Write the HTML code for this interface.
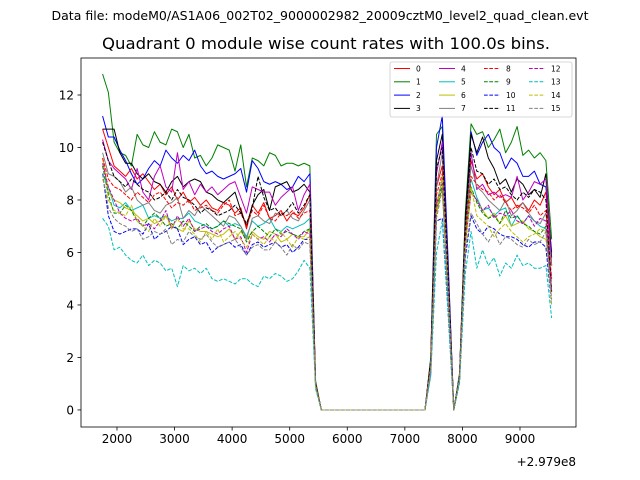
<!DOCTYPE html>
<html><head><meta charset="utf-8"><style>
body{margin:0;background:#fff}
svg{display:block;font-family:"DejaVu Sans","Liberation Sans",sans-serif}
</style></head><body>
<svg id="chart" width="640" height="480" xmlns="http://www.w3.org/2000/svg">
<rect width="640" height="480" fill="#fff"/>
<text x="320" y="20" font-size="12.4" text-anchor="middle" textLength="537" lengthAdjust="spacingAndGlyphs">Data file: modeM0/AS1A06_002T02_9000002982_20009cztM0_level2_quad_clean.evt</text>
<text x="326" y="49" font-size="16.3" text-anchor="middle" textLength="448" lengthAdjust="spacingAndGlyphs">Quadrant 0 module wise count rates with 100.0s bins.</text>
<g id="plot"></g>
</svg>
<script>
const colors=["#ff0000","#008000","#0000ff","#000000","#bf00bf","#00bfbf","#bfbf00","#808080"];
const labels=["0","1","2","3","4","5","6","7","8","9","10","11","12","13","14","15"];
const xTicks=[2000,3000,4000,5000,6000,7000,8000,9000];
const yTicks=[0,2,4,6,8,10,12];
const gapZeros=[0,0,0,0,0,0,0,0,0,0,0,0,0,0,0,0,0,0,0];
// block A: 1750..5350 step 100
const blockA=[
[10.7,10.0,9.3,9.1,8.9,9.2,8.8,9.0,8.7,8.4,8.6,8.2,8.5,8.0,8.3,7.9,8.1,7.8,8.0,7.7,7.6,7.9,7.8,7.5,7.7,6.9,7.8,7.5,7.9,7.3,7.4,7.6,7.2,7.5,7.4,7.7,8.2],
[12.8,12.1,10.2,9.8,9.7,9.3,10.5,10.1,10.0,10.6,10.2,10.1,10.7,10.6,10.0,10.5,9.6,9.7,9.3,9.6,10.1,10.0,9.9,9.1,10.1,8.5,9.6,9.5,9.3,9.8,9.7,9.3,9.4,9.4,9.3,9.4,9.3],
[11.2,10.4,10.4,9.9,9.5,9.0,8.6,8.8,9.2,9.5,9.3,9.9,9.6,9.4,9.7,9.5,9.9,9.3,9.0,9.1,8.9,8.8,8.9,9.0,9.2,8.3,9.5,9.2,8.7,8.6,8.7,8.6,8.4,8.5,8.9,8.7,9.0],
[10.7,10.7,10.7,9.8,9.4,9.4,9.0,8.8,9.0,8.7,8.6,8.3,8.7,8.9,8.5,8.7,8.8,8.7,8.3,8.2,8.0,7.9,8.1,8.3,7.6,7.0,7.8,8.2,8.4,7.6,8.5,8.6,8.7,8.3,8.4,8.6,8.3],
[10.3,9.5,9.2,9.0,8.8,8.4,9.2,8.3,8.0,8.9,9.3,8.5,8.3,9.8,8.4,8.7,8.2,8.6,8.3,8.5,8.2,8.4,8.6,8.7,8.1,7.5,8.5,8.4,8.3,8.3,7.8,8.1,8.3,8.5,7.6,8.2,8.6],
[9.0,8.5,7.8,7.7,7.9,7.6,7.7,7.8,7.3,7.4,7.3,7.4,7.2,7.3,7.3,7.5,7.2,7.1,7.0,6.9,7.0,7.2,7.0,7.1,7.0,6.6,7.2,7.0,7.1,7.3,6.9,6.8,7.0,6.9,7.0,7.1,7.3],
[9.6,8.3,8.0,7.9,7.7,7.6,7.4,7.2,7.3,7.1,7.2,7.4,7.0,6.9,6.8,7.2,6.9,6.8,6.8,6.7,6.6,6.7,6.9,6.5,6.8,6.5,6.8,6.6,6.5,6.8,6.7,6.4,6.5,6.7,6.6,6.6,6.9],
[9.8,9.0,8.9,8.7,8.3,8.5,8.0,7.8,7.9,7.6,7.5,7.8,7.9,8.1,7.3,7.6,7.4,7.8,7.6,7.4,7.2,7.0,7.4,7.3,7.0,6.5,7.3,7.4,7.2,7.1,7.5,7.4,7.6,7.3,7.2,7.6,8.0],
[9.6,8.8,8.5,8.4,8.2,8.0,8.3,8.1,7.9,8.2,8.3,8.0,7.7,7.9,7.8,8.0,7.6,7.7,7.8,7.6,7.5,7.8,8.0,7.4,7.5,7.0,7.6,7.4,7.8,7.3,7.2,7.5,7.4,7.6,7.3,7.5,7.6],
[9.3,8.2,7.5,7.5,7.8,7.6,7.2,7.0,7.3,7.5,7.3,7.0,7.1,6.9,7.2,7.0,6.8,7.0,7.1,6.9,7.0,7.2,7.1,7.0,6.9,6.4,6.8,7.0,6.8,6.6,6.9,6.7,6.8,6.7,6.6,6.8,6.9],
[9.0,7.4,6.8,6.7,6.8,6.9,6.9,6.7,7.1,6.5,6.7,6.8,7.0,6.9,6.3,6.5,6.6,6.3,6.4,6.0,6.2,6.3,6.4,6.2,6.3,5.9,6.3,6.4,6.2,6.3,6.4,6.2,6.3,6.0,6.2,6.5,6.5],
[10.2,9.5,8.9,8.7,8.5,8.8,8.6,8.4,8.3,8.0,8.1,8.3,8.0,8.4,8.1,8.0,7.8,7.5,7.7,7.6,7.4,7.5,7.6,7.8,7.5,7.1,7.7,8.9,8.1,7.6,7.7,7.4,7.6,7.9,7.5,7.8,8.2],
[9.4,8.5,8.0,7.5,7.3,7.2,7.3,7.0,7.1,6.9,7.2,7.6,6.9,7.4,7.0,7.3,6.8,6.9,7.0,6.8,6.7,6.9,7.0,6.5,6.6,6.0,6.7,6.5,6.6,6.4,6.7,6.6,6.9,6.7,6.5,6.8,6.7],
[7.3,7.0,6.1,6.2,5.9,5.7,5.6,5.9,5.5,5.7,5.6,5.3,5.4,4.7,5.5,5.3,5.4,5.2,5.4,5.0,4.9,5.0,4.9,4.8,5.0,5.0,4.8,4.7,5.1,5.0,5.2,5.1,4.9,5.0,5.3,5.7,5.4],
[8.8,8.0,7.6,7.5,7.4,7.8,7.2,7.0,6.8,7.3,7.0,7.4,6.9,7.3,6.9,6.9,6.7,6.4,6.8,6.5,6.9,6.4,6.6,6.8,6.5,6.2,6.7,6.5,6.3,6.6,6.4,6.8,6.5,6.2,6.6,6.5,6.6],
[9.0,7.7,7.3,7.1,7.0,6.8,6.9,6.5,6.6,6.8,6.7,6.9,6.3,6.5,6.4,6.8,6.6,6.5,6.7,6.4,6.2,6.3,6.4,6.5,6.2,5.9,6.2,6.3,6.1,6.1,6.4,6.2,5.9,6.3,6.1,6.4,6.3]];
// spike: 5450, 7450, 7550, 7650, 7750, 7950, 8050
const spike=[
[1.0,1.8,8.5,9.3,4.8,1.3,6.8],[1.1,2.0,10.5,10.8,5.5,1.4,7.5],[1.0,1.9,10.0,11.2,5.8,1.3,7.0],[1.0,1.9,9.5,10.5,5.4,1.3,7.3],
[1.0,1.8,9.0,10.2,5.2,1.3,6.9],[0.9,1.6,7.8,8.8,4.5,1.2,6.5],[0.9,1.6,7.5,8.5,4.4,1.2,6.3],[1.0,1.7,8.5,9.8,5.0,1.3,6.8],
[1.0,1.7,8.2,9.0,4.6,1.2,6.6],[0.9,1.6,7.6,8.6,4.4,1.2,6.3],[0.9,1.4,7.2,7.3,3.8,1.1,5.8],[1.0,1.8,9.2,10.0,5.1,1.3,7.0],
[0.9,1.6,7.8,8.8,4.5,1.2,6.3],[0.8,1.3,6.0,7.2,3.7,1.0,5.2],[0.9,1.6,7.6,8.9,4.5,1.2,6.2],[0.9,1.5,7.3,8.4,4.3,1.2,6.0]];
// block B: 8150..9550
const blockB=[
[9.5,8.8,9.0,8.5,8.2,8.4,7.9,8.1,7.7,7.9,7.6,8.0,7.8,8.3,5.5],
[10.9,10.5,10.6,10.0,10.3,10.7,9.8,10.2,10.8,9.7,9.9,9.6,9.8,9.5,6.5],
[10.6,9.7,10.2,10.5,10.0,9.8,9.2,9.6,9.4,8.9,8.9,9.1,8.6,8.5,6.0],
[10.5,9.8,10.4,9.6,9.2,8.6,8.8,8.3,8.8,8.6,8.2,8.4,8.1,9.0,5.8],
[9.8,8.4,8.6,8.2,8.3,8.1,8.2,8.1,8.9,8.0,8.3,8.7,8.6,8.8,5.5],
[8.8,8.1,7.6,7.7,7.4,7.6,7.7,7.0,7.4,7.1,7.4,7.2,7.0,6.9,5.0],
[8.3,8.0,7.6,7.3,7.5,7.1,7.4,7.0,7.1,7.2,6.9,6.8,6.6,6.5,5.0],
[9.3,8.5,8.3,8.0,7.8,7.6,8.0,7.4,7.6,7.9,7.5,7.2,7.1,7.5,5.5],
[8.9,8.6,8.4,8.3,8.0,8.2,7.9,7.6,7.8,7.7,7.5,7.8,7.4,7.6,5.0],
[8.5,7.9,7.5,7.3,7.4,7.1,7.6,7.3,7.4,7.1,7.0,6.8,6.7,7.0,4.5],
[7.4,6.9,6.7,7.0,6.9,6.7,6.6,6.6,6.5,6.3,6.2,6.4,6.4,6.2,4.0],
[10.0,9.1,9.0,8.6,8.8,8.4,8.5,8.2,8.0,8.3,8.1,8.4,8.3,8.0,4.5],
[8.3,8.0,7.6,7.8,7.3,7.5,7.4,7.6,7.2,7.1,7.4,7.0,7.3,7.2,4.5],
[6.8,5.4,6.1,5.5,5.8,5.1,5.6,5.4,5.9,5.5,5.6,5.4,5.4,5.5,3.5],
[8.5,7.4,7.2,7.0,6.6,6.9,7.1,6.8,6.6,6.4,6.6,6.7,6.9,6.8,4.0],
[7.5,7.1,6.7,6.4,6.8,6.3,6.6,6.5,6.3,6.2,6.5,6.3,6.4,6.8,4.2]];

const NS="http://www.w3.org/2000/svg";
const L=81,R=576,T=58,B=427;
const xMin=1375,xMax=9973,yMin=-0.65,yMax=13.41;
const sx=v=>L+(v-xMin)/(xMax-xMin)*(R-L);
const sy=v=>B-(v-yMin)/(yMax-yMin)*(B-T);
const g=document.getElementById('plot');
function mk(tag,attrs,parent){const e=document.createElementNS(NS,tag);for(const k in attrs)e.setAttribute(k,attrs[k]);(parent||g).appendChild(e);return e;}
const times=[];for(let t=1750;t<=9550;t+=100)times.push(t);

for(let k=0;k<16;k++){
  const s=spike[k];
  const vals=[...blockA[k],s[0],...gapZeros,s[1],s[2],s[3],s[4],0,s[5],s[6],...blockB[k]];
  const d=vals.map((v,i)=>(i?'L':'M')+sx(times[i]).toFixed(2)+' '+sy(v).toFixed(2)).join(' ');
  const p=mk('path',{d:d,fill:'none',stroke:colors[k%8],'stroke-width':1,'stroke-linejoin':'round'});
  if(k>=8)p.setAttribute('stroke-dasharray','3.7 1.6');
  
  
}
const fr=mk('rect',{x:L,y:T,width:R-L,height:B-T,fill:'none',stroke:'#000','stroke-width':0.8});


xTicks.forEach(t=>{
  const x=sx(t);
  const tk=mk('line',{x1:x,x2:x,y1:B,y2:B+3.5,stroke:'#000','stroke-width':0.8});
  
  
  const tx=mk('text',{x:x,y:B+16,'font-size':12,'text-anchor':'middle'});
  tx.textContent=t;
  
  
});
yTicks.forEach(t=>{
  const y=sy(t);
  const tk=mk('line',{x1:L-3.5,x2:L,y1:y,y2:y,stroke:'#000','stroke-width':0.8});
  
  
  const tx=mk('text',{x:L-7,y:y+4.5,'font-size':12,'text-anchor':'end'});
  tx.textContent=t;
  
  
});
const off=mk('text',{x:R,y:466,'font-size':12,'text-anchor':'end'});
off.textContent='+2.979e8';


const lg=mk('g',{});


const box=mk('rect',{x:390,y:62,width:182,height:55,rx:2,fill:'#fff','fill-opacity':0.8,stroke:'#ccc','stroke-width':0.8},lg);


for(let k=0;k<16;k++){
  const col=Math.floor(k/4),row=k%4;
  const x0=394+col*45,y0=68.5+row*13.3;
  const ln=mk('line',{x1:x0,x2:x0+16,y1:y0,y2:y0,stroke:colors[k%8],'stroke-width':1},lg);
  if(k>=8)ln.setAttribute('stroke-dasharray','3.7 1.6');
  
  
  const tx=mk('text',{x:x0+22,y:y0+2.8,'font-size':7.5},lg);
  tx.textContent=labels[k];
  
  
}
</script>
</body></html>
